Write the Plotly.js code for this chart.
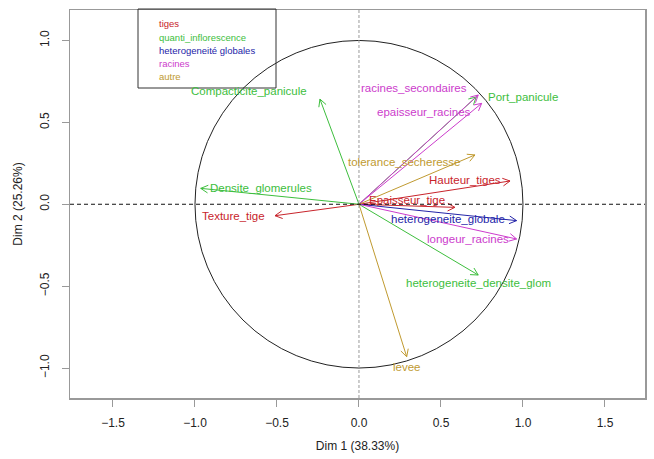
<!DOCTYPE html>
<html>
<head>
<meta charset="utf-8">
<script src="https://cdn.plot.ly/plotly-3.0.1.min.js"></script>
<style>html,body{margin:0;padding:0;background:#fff;}#chart{width:654px;height:459px;}</style>
</head>
<body>
<div id="chart"></div>
<script>
// ---- data ----
const varNames = [
  'Texture_tige', 'Hauteur_tiges', 'Epaisseur_tige',
  'Compacticite_panicule', 'Densite_glomerules', 'Port_panicule', 'heterogeneite_densite_glom',
  'heterogeneite_globale',
  'racines_secondaires', 'epaisseur_racines', 'longeur_racines',
  'tolerance_secheresse', 'levee'
];
const dim1 = [-0.512, 0.921, 0.585, -0.238, -0.965, 0.715, 0.727, 0.961, 0.727, 0.748, 0.961, 0.707, 0.291];
const dim2 = [-0.070, 0.142, -0.019, 0.642, 0.097, 0.655, -0.432, -0.100, 0.667, 0.616, -0.212, 0.301, -0.931];
const groupOf = [0, 0, 0, 1, 1, 1, 1, 2, 3, 3, 3, 4, 4];
const groupNames = ['tiges', 'quanti_inflorescence', 'heterogeneité globales', 'racines', 'autre'];

// ---- style ----
const groupColors = ['#C8242B', '#3DBE3D', '#2424A8', '#CC3CCC', '#C09A30'];
// label offsets from arrow tip in pixels [dx, dy(down)]
const labelShift = [
  [-42, 0], [-45, -1], [-48, -7],
  [-71, -8], [60, 0], [47, 0], [0, 8],
  [-69, -2],
  [-64, -7], [-58, 9], [-49, 0],
  [-70, 7], [0, 10]
];
const FONT = 'Arial, "Liberation Sans", sans-serif';

const traces = [];
const headLen = 0.05, headAng = 28 * Math.PI / 180;
groupNames.forEach((g, gi) => {
  const xs = [], ys = [];
  varNames.forEach((v, i) => {
    if (groupOf[i] !== gi) return;
    const x = dim1[i], y = dim2[i];
    const th = Math.atan2(y, x);
    xs.push(0, x, null);
    ys.push(0, y, null);
    xs.push(x - headLen * Math.cos(th + headAng), x, x - headLen * Math.cos(th - headAng), null);
    ys.push(y - headLen * Math.sin(th + headAng), y, y - headLen * Math.sin(th - headAng), null);
  });
  traces.push({
    x: xs, y: ys, type: 'scatter', mode: 'lines',
    line: {color: groupColors[gi], width: 1},
    hoverinfo: 'skip', showlegend: false
  });
});

const annotations = varNames.map((v, i) => ({
  x: dim1[i], y: dim2[i], xref: 'x', yref: 'y',
  text: v, showarrow: false,
  xshift: labelShift[i][0], yshift: -labelShift[i][1],
  font: {family: FONT, size: 11.5, color: groupColors[groupOf[i]]}
}));

// legend box (pixel layout -> paper)
const plotL = 70, plotR = 645, plotT = 10, plotB = 398;
const px2x = p => (p - plotL) / (plotR - plotL);
const px2y = p => (plotB - p) / (plotB - plotT);
groupNames.forEach((g, gi) => {
  annotations.push({
    x: px2x(157), y: px2y(24 + gi * 13.2), xref: 'paper', yref: 'paper',
    xanchor: 'left', yanchor: 'middle', text: g, showarrow: false,
    font: {family: FONT, size: 9.5, color: groupColors[gi]}
  });
});

const shapes = [
  {type: 'circle', xref: 'x', yref: 'y', x0: -1, x1: 1, y0: -1, y1: 1,
   line: {color: '#222', width: 1}},
  {type: 'line', xref: 'paper', yref: 'y', x0: 0, x1: 1, y0: 0, y1: 0,
   line: {color: '#111', width: 1, dash: '4px,3px'}},
  {type: 'line', xref: 'x', yref: 'paper', x0: 0, x1: 0, y0: 0, y1: 1,
   line: {color: '#999', width: 1, dash: '3px,2px'}},
  {type: 'rect', xref: 'paper', yref: 'paper',
   x0: px2x(138), x1: px2x(276), y0: px2y(88), y1: px2y(9),
   line: {color: '#333', width: 1}, fillcolor: 'rgba(0,0,0,0)'}
];

const layout = {
  width: 654, height: 459,
  margin: {l: 70, r: 9, t: 10, b: 61},
  paper_bgcolor: '#fff', plot_bgcolor: '#fff',
  font: {family: FONT, size: 12, color: '#222'},
  showlegend: false,
  xaxis: {
    range: [-1.762, 1.744], tickvals: [-1.5, -1, -0.5, 0, 0.5, 1, 1.5], tickformat: '.1f',
    showgrid: false, zeroline: false, showline: true, mirror: true,
    linecolor: '#999', linewidth: 1.5, ticks: 'outside', ticklen: 7, tickcolor: '#999',
    ticklabelstandoff: 6,
    tickfont: {family: FONT, size: 12, color: '#222'},
    title: {text: 'Dim 1 (38.33%)', font: {family: FONT, size: 12, color: '#222'}, standoff: 12}
  },
  yaxis: {
    range: [-1.183, 1.186], tickvals: [-1, -0.5, 0, 0.5, 1], tickformat: '.1f',
    showgrid: false, zeroline: false, showline: true, mirror: true,
    linecolor: '#999', linewidth: 1.5, ticks: 'outside', ticklen: 7, tickcolor: '#999',
    tickangle: -90, ticklabelstandoff: 8,
    tickfont: {family: FONT, size: 12, color: '#222'},
    title: {text: 'Dim 2 (25.26%)', font: {family: FONT, size: 12, color: '#222'}, standoff: 12}
  },
  shapes: shapes,
  annotations: annotations
};

Plotly.newPlot('chart', traces, layout, {staticPlot: true, displayModeBar: false});
</script>
</body>
</html>
